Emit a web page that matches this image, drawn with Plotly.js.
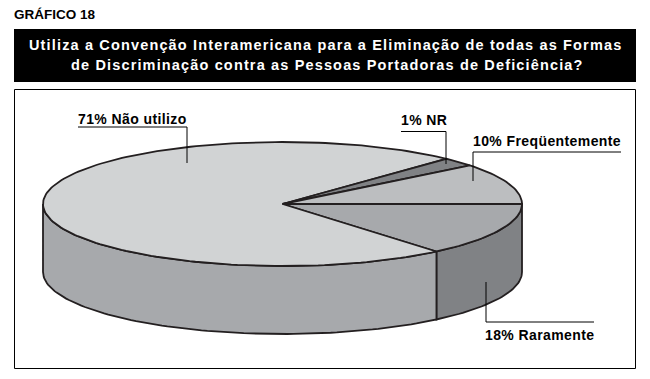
<!DOCTYPE html>
<html><head><meta charset="utf-8">
<script src="https://cdn.plot.ly/plotly-3.0.1.min.js"></script>
<style>html,body{margin:0;padding:0;background:#fff}#c{width:650px;height:379px}</style>
</head><body><div id="c"></div>
<script>
var sliceNames = ["Raramente", "Não utilizo", "NR", "Freqüentemente"];
var statedPercents = [18, 71, 1, 10];
// Sweep of each slice as it is drawn in the picture (degrees, clockwise from 3 o'clock)
var sliceDegrees = [50, 263.2, 8.3, 38.5];
var topColors = ["#a7a9ac", "#d1d3d4", "#808285", "#bcbec0"];
var wallColors = ["#808285", "#a7a9ac", "#a7a9ac", "#a7a9ac"];

var FONT = "'Liberation Sans',Arial,sans-serif";
var INK = "#231f20";
var cx = 282.5, cy = 204, rx = 239.5, ry = 62, depth = 68;

function pt(a, dy) {
  var r = a * Math.PI / 180;
  return [cx + rx * Math.cos(r), cy + ry * Math.sin(r) + (dy || 0)];
}
function arc(a0, a1, dy) {
  var out = [], n = Math.max(2, Math.ceil(Math.abs(a1 - a0) / 1.5));
  for (var i = 0; i <= n; i++) out.push(pt(a0 + (a1 - a0) * i / n, dy));
  return out;
}
function poly(points, fill) {
  return {
    type: "scatter", mode: "lines", fill: "toself", fillcolor: fill,
    x: points.map(function (p) { return p[0]; }),
    y: points.map(function (p) { return p[1]; }),
    line: { color: INK, width: 1.8, shape: "linear" },
    hoverinfo: "skip", showlegend: false
  };
}
function leader(xs, ys) {
  return { type: "scatter", mode: "lines", x: xs, y: ys,
    line: { color: "#000", width: 1 }, hoverinfo: "skip", showlegend: false };
}

var traces = [], start = 0;
// walls: only the front half of the rim is visible
sliceDegrees.forEach(function (d, i) {
  var a0 = start, a1 = Math.min(start + d, 180);
  if (a0 < 180) {
    var top = arc(a0, a1, 0), bottom = arc(a1, a0, depth);
    traces.push(poly(top.concat(bottom, [top[0]]), wallColors[i]));
  }
  start += d;
});
// top faces
start = 0;
sliceDegrees.forEach(function (d, i) {
  var p = [[cx, cy]].concat(arc(start, start + d, 0), [[cx, cy]]);
  traces.push(poly(p, topColors[i]));
  start += d;
});
// leader lines
traces.push(leader([78, 187, 187], [127, 127, 163]));
traces.push(leader([401, 446, 446], [131.5, 131.5, 164]));
traces.push(leader([621, 473, 473], [152, 152, 181]));
traces.push(leader([486, 486, 594], [282, 322, 322]));

function label(text, x, y, size, color, anchor, sp) {
  return { text: '<span style="letter-spacing:' + sp + 'px">' + text + '</span>',
    x: x, y: y, xref: "x", yref: "y", xanchor: anchor || "left", yanchor: "middle",
    showarrow: false, align: "center", borderpad: 0,
    font: { family: FONT, size: size, color: color || "#000", weight: 700 } };
}
var annotations = [
  label("GRÁFICO 18", 13, 14, 13.5, "#000", "left", 0),
  label("Utiliza a Convenção Interamericana para a Eliminação de todas as Formas", 325.5, 45, 14.5, "#fff", "center", 1.15),
  label("de Discriminação contra as Pessoas Portadoras de Deficiência?", 327.5, 65, 14.5, "#fff", "center", 1.15),
  label(statedPercents[1] + "% " + sliceNames[1], 77, 118.5, 14, "#000", "left", .4),
  label(statedPercents[2] + "% " + sliceNames[2], 400, 119.5, 14, "#000", "left", .4),
  label(statedPercents[3] + "% " + sliceNames[3], 472, 141, 14, "#000", "left", .4),
  label(statedPercents[0] + "% " + sliceNames[0], 484, 335, 14, "#000", "left", .4)
];
var layout = {
  width: 650, height: 379, margin: { l: 0, r: 0, t: 0, b: 0 },
  paper_bgcolor: "#fff", plot_bgcolor: "#fff", showlegend: false,
  xaxis: { range: [0, 650], visible: false, fixedrange: true },
  yaxis: { range: [379, 0], visible: false, fixedrange: true },
  shapes: [
    { type: "rect", xref: "x", yref: "y", x0: 14, x1: 636, y0: 29, y1: 82, fillcolor: "#000", line: { width: 0 }, layer: "below" },
    { type: "rect", xref: "x", yref: "y", x0: 14.5, x1: 635.5, y0: 89.5, y1: 368.5, fillcolor: "#fff", line: { color: "#000", width: 1 }, layer: "below" }
  ],
  annotations: annotations
};
Plotly.newPlot("c", traces, layout, { displayModeBar: false, staticPlot: true });
</script></body></html>
